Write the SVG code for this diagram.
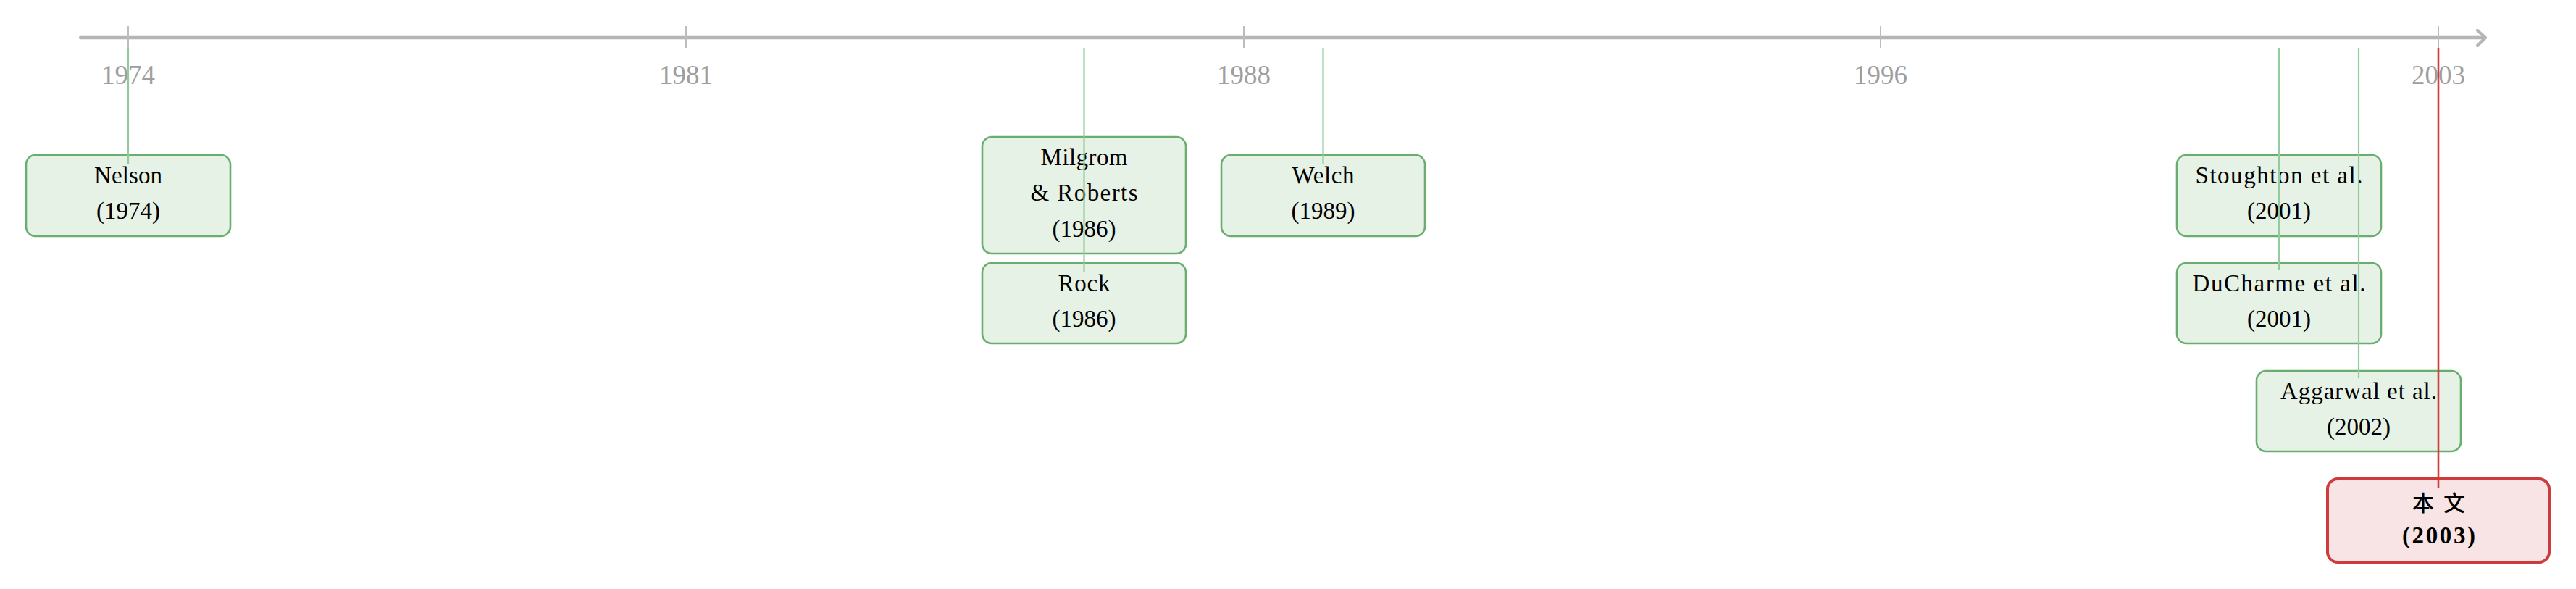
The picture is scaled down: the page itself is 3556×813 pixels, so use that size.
<svg xmlns="http://www.w3.org/2000/svg" width="3556" height="813" viewBox="0 0 3556 813">
<style>
.axis{stroke:#b5b5b5;stroke-width:4.3;fill:none;stroke-linecap:round;stroke-linejoin:round}
.tick{stroke:#bdbdbd;stroke-width:2}
.yr{font-family:"Liberation Serif",serif;font-size:37px;fill:#9e9e9e;text-anchor:middle}
.box{fill:#e7f2e7;stroke:#6aae6f;stroke-width:2.6}
.rbox{fill:#f8e4e4;stroke:#cf3a3a;stroke-width:4}
.t{font-family:"Liberation Serif",serif;font-size:33px;fill:#000;text-anchor:middle}
.tb{font-family:"Liberation Serif",serif;font-size:33px;font-weight:bold;fill:#000;text-anchor:middle}
.cjk{font-family:"Liberation Serif","Noto Sans CJK SC",serif;font-size:30px;font-weight:500;fill:#000;text-anchor:middle}
.c{stroke:#94cb9c;stroke-width:2.2;fill:none}
.cr{stroke:#d23c3c;stroke-width:2.6;fill:none}
</style>
<rect width="3556" height="813" fill="#fff"/>
<g id="axis">
<line class="axis" x1="111" y1="52" x2="3430" y2="52"/>
<path class="axis" d="M3420,42 L3431,52 L3420,63"/>
<line class="tick" x1="177" y1="36" x2="177" y2="66"/>
<line class="tick" x1="947" y1="36" x2="947" y2="66"/>
<line class="tick" x1="1717" y1="36" x2="1717" y2="66"/>
<line class="tick" x1="2596" y1="36" x2="2596" y2="66"/>
<line class="tick" x1="3366" y1="36" x2="3366" y2="66"/>
<text class="yr" x="177" y="116">1974</text>
<text class="yr" x="947" y="116">1981</text>
<text class="yr" x="1717" y="116">1988</text>
<text class="yr" x="2596" y="116">1996</text>
<text class="yr" x="3366" y="116">2003</text>
</g>
<g id="nelson">
<rect class="box" x="36" y="214" width="282" height="112" rx="13"/>
<text class="t" x="177" y="253" textLength="94">Nelson</text>
<text class="t" x="177" y="302" textLength="88">(1974)</text>
</g>
<g id="milgrom">
<rect class="box" x="1356" y="189" width="281" height="161" rx="13"/>
<text class="t" x="1496.5" y="228" textLength="120">Milgrom</text>
<text class="t" x="1496.5" y="277" textLength="148">&amp; Roberts</text>
<text class="t" x="1496.5" y="327" textLength="88">(1986)</text>
</g>
<g id="rock">
<rect class="box" x="1356" y="363" width="281" height="111" rx="13"/>
<text class="t" x="1496.5" y="402" textLength="72">Rock</text>
<text class="t" x="1496.5" y="451" textLength="88">(1986)</text>
</g>
<g id="welch">
<rect class="box" x="1686" y="214" width="281" height="112" rx="13"/>
<text class="t" x="1826.5" y="253" textLength="86">Welch</text>
<text class="t" x="1826.5" y="302" textLength="88">(1989)</text>
</g>
<g id="stoughton">
<rect class="box" x="3005" y="214" width="282" height="112" rx="13"/>
<text class="t" x="3146" y="253" textLength="231">Stoughton et al.</text>
<text class="t" x="3146" y="302" textLength="88">(2001)</text>
</g>
<g id="ducharme">
<rect class="box" x="3005" y="363" width="282" height="111" rx="13"/>
<text class="t" x="3146" y="402" textLength="239">DuCharme et al.</text>
<text class="t" x="3146" y="451" textLength="88">(2001)</text>
</g>
<g id="aggarwal">
<rect class="box" x="3115" y="512" width="282" height="111" rx="13"/>
<text class="t" x="3256" y="551" textLength="216">Aggarwal et al.</text>
<text class="t" x="3256" y="600" textLength="88">(2002)</text>
</g>
<g id="benwen">
<rect class="rbox" x="3213" y="661" width="306" height="115" rx="14"/>
<text class="cjk" x="3366.5" y="705" textLength="73">本 文</text>
<text class="tb" x="3366.5" y="750" textLength="101">(2003)</text>
</g>
<g id="connectors">
<line class="c" x1="177" y1="66" x2="177" y2="226"/>
<line class="c" x1="1496.5" y1="66" x2="1496.5" y2="375"/>
<line class="c" x1="1826.5" y1="66" x2="1826.5" y2="226"/>
<line class="c" x1="3146" y1="66" x2="3146" y2="373"/>
<line class="c" x1="3256" y1="66" x2="3256" y2="522"/>
<line class="cr" x1="3366" y1="66" x2="3366" y2="673"/>
</g>
</svg>
